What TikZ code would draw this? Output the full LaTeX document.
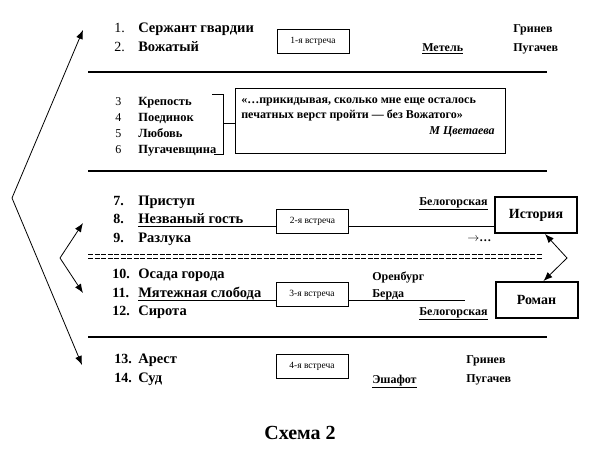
\documentclass[tikz,border=0pt]{standalone}
\usepackage{fontspec}
\setmainfont{Liberation Serif}
\usetikzlibrary{arrows.meta}

\begin{document}
\begin{tikzpicture}[x=1pt,y=-1pt,semithick,
  num/.style={inner sep=0pt,anchor=base west,font=\fontsize{14}{16}\selectfont},
  item/.style={inner sep=0pt,anchor=base west,font=\fontsize{14.5}{16}\selectfont\bfseries},
  motif/.style={inner sep=0pt,anchor=base west,font=\fontsize{12.5}{14}\selectfont\bfseries},
  place/.style={inner sep=0pt,anchor=base west,font=\fontsize{12}{14}\selectfont\bfseries},
  quoteline/.style={inner sep=0pt,anchor=base west,font=\fontsize{12}{13}\selectfont\bfseries},
  meeting/.style={draw,thick,minimum width=72pt,minimum height=24pt,inner sep=1pt,font=\fontsize{9.5}{11}\selectfont},
  plot/.style={draw,line width=2pt,minimum width=82pt,minimum height=36pt,font=\fontsize{14}{16}\selectfont\bfseries},
  rule/.style={line width=1.2pt},
  twoway/.style={{Latex[length=9pt,width=7pt]}-{Latex[length=9pt,width=7pt]}}]
\useasboundingbox (0,0) rectangle (601,452);

% first meeting
\node[num] at (114,33) {1.};
\node[item] (t1) at (138,33) {Сержант гвардии};
\node[num] at (114,52) {2.};
\node[item] (t2) at (138,52) {Вожатый};
\node[meeting] (m1) at (313,41) {1-я встреча};
\node[place] (metel) at (422,52) {\underline{Метель}};
\node[place] (grin1) at (513,33) {Гринев};
\node[place] (pug1) at (513,52) {Пугачев};
\draw[rule] (88,72) -- (547,72);

% motifs and quote
\node[num,font=\fontsize{12}{14}\selectfont] at (115,105) {3};
\node[motif] (t3) at (138,105) {Крепость};
\node[num,font=\fontsize{12}{14}\selectfont] at (115,121) {4};
\node[motif] (t4) at (138,121) {Поединок};
\node[num,font=\fontsize{12}{14}\selectfont] at (115,137) {5};
\node[motif] (t5) at (138,137) {Любовь};
\node[num,font=\fontsize{12}{14}\selectfont] at (115,153) {6};
\node[motif] (t6) at (138,153) {Пугачевщина};
\draw (212,94) -- (223,94) -- (223,154) -- (214,154);
\node[draw,thick,minimum width=270pt,minimum height=65pt] (quote) at (370,120.5) {};
\coordinate (brace) at (223,123);
\draw (brace) -- (brace -| quote.west);
\node[quoteline] (q1) at (241,103) {«…прикидывая, сколько мне еще осталось};
\node[quoteline] (q2) at (241,118) {печатных верст пройти — без Вожатого»};
\node[quoteline,anchor=base east] (q3) at (495,134) {\textit{М Цветаева}};
\draw[rule] (88,171) -- (547,171);

% second meeting
\node[num,font=\fontsize{14}{16}\selectfont\bfseries] at (113,205) {7.};
\node[item] (t7) at (138,205) {Приступ};
\node[num,font=\fontsize{14}{16}\selectfont\bfseries] at (113,223) {8.};
\node[item] (t8) at (138,223) {Незваный гость};
\node[num,font=\fontsize{14}{16}\selectfont\bfseries] at (113,242) {9.};
\node[item] (t9) at (138,242) {Разлука};
\node[meeting] (m2) at (312.5,221.5) {2-я встреча};
\node[plot] (hist) at (536,215) {История};
\node[place] (bel1) at (419,205) {\underline{Белогорская}};
\node[place] (more) at (467,241) {$\rightarrow$\ldots};
\coordinate (u8) at ([yshift=-3pt]t8.base west);
\draw (u8) -- (u8 -| m2.west);
\draw (u8 -| m2.east) -- (u8 -| hist.west);
\draw[dash pattern=on 5pt off 1.5pt] (88,254) -- (542,254);
\draw[dash pattern=on 5pt off 1.5pt] (88,258) -- (542,258);

% third meeting
\node[num,font=\fontsize{14}{16}\selectfont\bfseries] at (112,278) {10.};
\node[item] (t10) at (138,278) {Осада города};
\node[num,font=\fontsize{14}{16}\selectfont\bfseries] at (112,297) {11.};
\node[item] (t11) at (138,297) {Мятежная слобода};
\node[num,font=\fontsize{14}{16}\selectfont\bfseries] at (112,315) {12.};
\node[item] (t12) at (138,315) {Сирота};
\node[meeting] (m3) at (312,294) {3-я встреча};
\node[plot] (roman) at (536.5,300) {Роман};
\node[place] (oren) at (372,280) {Оренбург};
\node[place] (berda) at (372,297) {Берда};
\node[place] (bel2) at (419,315) {\underline{Белогорская}};
\coordinate (u11) at ([yshift=-3pt]t11.base west);
\coordinate (berdaend) at (465,300);
\draw (u11) -- (u11 -| m3.west);
\draw (u11 -| m3.east) -- (u11 -| berdaend);
\draw[twoway,thick] ([xshift=9pt]hist.south) -- (567,258) -- ([xshift=7pt]roman.north);
\draw[rule] (88,337) -- (547,337);

% fourth meeting
\node[num,font=\fontsize{14}{16}\selectfont\bfseries] at (114,363) {13.};
\node[item] (t13) at (138,363) {Арест};
\node[num,font=\fontsize{14}{16}\selectfont\bfseries] at (114,382) {14.};
\node[item] (t14) at (138,382) {Суд};
\node[meeting] (m4) at (312,366.5) {4-я встреча};
\node[place] (eshafot) at (372,383) {\underline{Эшафот}};
\node[place] (grin2) at (466,363) {Гринев};
\node[place] (pug2) at (466,382) {Пугачев};

% arrows on the left
\coordinate (top) at (83,30);
\coordinate (bend) at (12,198);
\coordinate (bottom) at (82,365);
\draw[twoway,thick] (top) -- (bend) -- (bottom);
\coordinate (up) at (83,223);
\coordinate (fork) at (60,258);
\coordinate (down) at (83,293);
\draw[twoway,thick] (up) -- (fork) -- (down);

\node[font=\fontsize{20}{22}\selectfont\bfseries] (title) at (300,433) {Схема 2};
\end{tikzpicture}
\end{document}
